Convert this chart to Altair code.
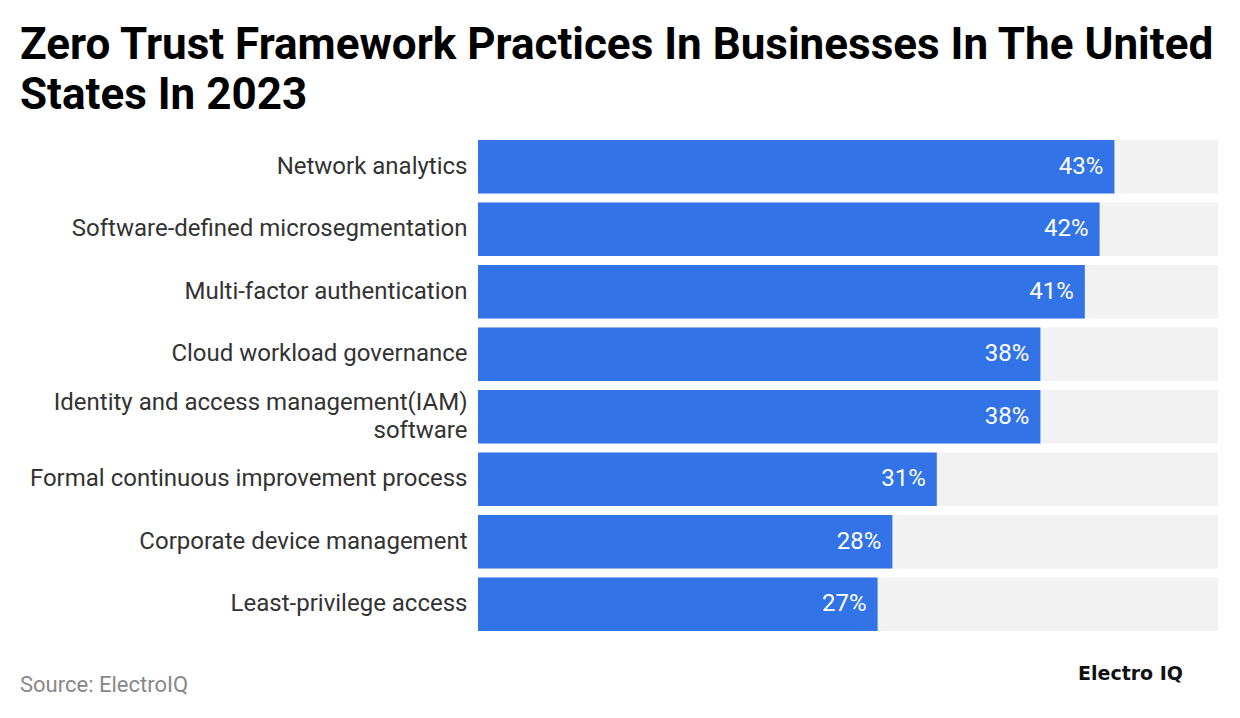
import altair as alt
import pandas as pd

categories = [
    "Network analytics",
    "Software-defined microsegmentation",
    "Multi-factor authentication",
    "Cloud workload governance",
    "Identity and access management(IAM)|software",
    "Formal continuous improvement process",
    "Corporate device management",
    "Least-privilege access",
]
values = [43, 42, 41, 38, 38, 31, 28, 27]
max_value = 50

df = pd.DataFrame({
    "category": categories,
    "value": values,
    "full": [max_value] * len(categories),
    "label": [f"{v}%" for v in values],
})

FONT = "Roboto"
y_enc = alt.Y(
    "category:N",
    sort=categories,
    scale=alt.Scale(paddingInner=0.145, paddingOuter=0),
    axis=alt.Axis(
        title=None, ticks=False, domain=False, grid=False, labelFontSize=24,
        labelColor="#333333", labelPadding=11, labelFont=FONT,
        labelLimit=470, labelLineHeight=28,
        labelExpr="split(datum.label, '|')",
        labelOffset={"condition": {"test": "indexof(datum.label, '|') >= 0", "value": -14}, "value": 0},
    ),
)
x_scale = alt.Scale(domain=[0, max_value], nice=False)

bg = alt.Chart(df).mark_bar(color="#f2f2f2", strokeWidth=0).encode(
    y=y_enc,
    x=alt.X("full:Q", scale=x_scale, axis=None),
)
fg = alt.Chart(df).mark_bar(color="#3273e8", strokeWidth=0).encode(
    y=y_enc,
    x=alt.X("value:Q", scale=x_scale, axis=None),
)
txt = alt.Chart(df).mark_text(
    align="right", baseline="middle", dx=-11, color="white", fontSize=24, font=FONT
).encode(
    y=y_enc,
    x=alt.X("value:Q", scale=x_scale, axis=None),
    text="label:N",
)

source = alt.Chart(pd.DataFrame({"t": ["Source: ElectroIQ"]})).mark_text(
    align="left", baseline="middle", fontSize=22, color="#888888", font=FONT
).encode(x=alt.value(-458), y=alt.value(545), text="t:N")

logo = alt.Chart(pd.DataFrame({"t": ["Electro IQ"]})).mark_text(
    align="left", baseline="middle", fontSize=19, fontWeight="bold", color="#111111",
    font="DejaVu Sans"
).encode(x=alt.value(600), y=alt.value(534), text="t:N")

chart = alt.layer(bg, fg, txt, source, logo).properties(
    width=740,
    height=491,
    padding={"left": 470, "top": 132, "right": 14, "bottom": 70},
    autosize=alt.AutoSizeParams(type="none"),
    view=alt.ViewBackground(strokeWidth=0, strokeOpacity=0),
    title=alt.TitleParams(
        text=["Zero Trust Framework Practices In Businesses In The United", "States In 2023"],
        anchor="start", frame="group", dx=-458, fontSize=44, font=FONT,
        fontWeight="bold", color="#000000", lineHeight=50, offset=22,
    ),
).configure_view(stroke="transparent", strokeWidth=0).configure(background="white")

chart.save("out.html", embed_options={"renderer": "svg", "actions": False})
